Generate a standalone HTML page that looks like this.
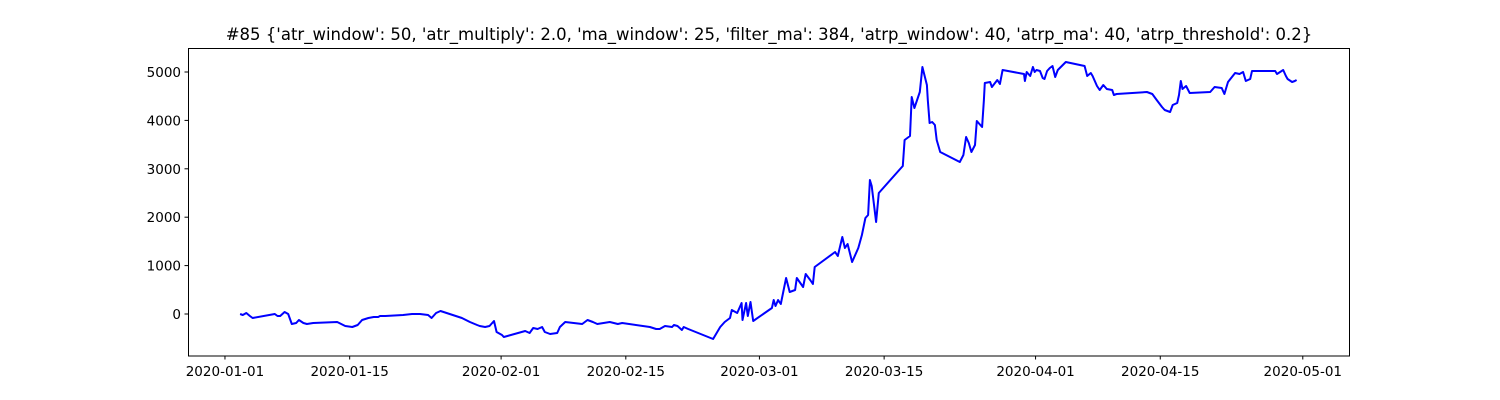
<!DOCTYPE html>
<html><head><meta charset="utf-8"><style>
html,body{margin:0;padding:0;background:#fff;}
svg{display:block;font-family:"DejaVu Sans","Liberation Sans",sans-serif;}
</style></head><body>
<svg id="chart" width="1500" height="400" viewBox="0 0 1500 400">
<rect width="1500" height="400" fill="#fff"/>
<text x="769" y="40" font-size="16.5" text-anchor="middle">#85 {'atr_window': 50, 'atr_multiply': 2.0, 'ma_window': 25, 'filter_ma': 384, 'atrp_window': 40, 'atrp_ma': 40, 'atrp_threshold': 0.2}</text>
<g id="grid"></g>
<g id="plot"></g>
<rect x="188.5" y="48.5" width="1161" height="307.5" fill="none" stroke="#000" stroke-width="1"/>
</svg>
<script>
// days since 2020-01-01
const days = [1.7,2.0,2.4,2.8,3.1,5.6,5.9,6.2,6.7,7.1,7.5,8.0,8.3,8.8,9.2,9.9,12.6,13.5,14.3,14.9,15.4,16.1,16.7,17.2,17.4,18.0,20.0,21.0,21.9,22.8,23.2,23.7,24.2,26.6,27.5,28.3,28.6,29.2,29.7,30.0,30.2,30.5,31.1,31.3,33.7,34.2,34.6,35.1,35.6,35.9,36.5,37.3,37.6,38.2,40.1,40.7,41.3,41.8,43.2,44.1,44.6,47.7,48.4,48.8,49.4,50.2,50.4,50.8,51.3,51.5,52.0,54.8,
55.6,56.1,56.7,56.9,57.5,58.0,58.1,58.5,58.7,59.0,59.3,61.4,61.6,61.8,62.1,62.4,63.0,63.4,64.0,64.2,64.9,65.2,65.7,66.0,66.2,68.5,68.8,69.3,69.6,69.9,70.4,71.1,71.5,71.9,72.2,72.4,72.6,73.1,73.4,76.1,76.3,76.9,77.1,77.4,78.0,78.3,78.8,78.9,79.1,79.4,79.7,79.9,80.3,82.5,82.9,83.2,83.5,83.8,84.2,84.4,85.0,85.2,85.3,85.9,86.1,86.7,87.0,87.3,
89.7,89.8,90.0,90.4,90.7,90.9,91.1,91.5,91.8,92.0,92.3,92.6,92.9,93.2,93.5,94.4,96.5,96.8,97.2,97.4,97.9,98.2,98.6,99.0,99.6,99.8,100.1,103.5,104.1,104.6,105.2,105.5,106.1,106.4,106.9,107.1,107.3,107.5,107.9,108.3,110.6,111.1,111.9,112.2,112.6,113.4,113.9,114.3,114.6,115.1,115.3,117.9,118.1,118.8,119.1,119.3,119.8,120.1,120.3];
const values = [0,-21,21,-41,-83,0,-41,-41,41,0,-207,-186,-124,-186,-207,-186,-165,-248,-269,-227,-124,-83,-62,-62,-41,-41,-21,0,0,-21,-83,21,62,-83,-165,-227,-248,-269,-248,-186,-145,-372,-434,-475,-351,-393,-289,-310,-269,-372,-413,-393,-269,-165,-207,-124,-165,-207,-165,-207,-186,-269,-310,-310,-248,-269,-227,-248,-331,-269,-310,-517,
-269,-165,-83,83,21,227,-124,227,-41,248,-145,124,289,165,289,207,744,455,496,744,558,826,702,620,971,1281,1198,1591,1364,1446,1074,1364,1632,1983,2045,2768,2644,1901,2500,3058,3595,3677,4483,4256,4587,5103,4731,4421,3946,3967,3905,3595,3347,3140,3285,3657,3533,3347,3492,3987,3863,4421,4772,4793,4690,4834,4752,5041,
4958,4814,5000,4917,5103,5000,5041,5020,4876,4855,5020,5082,5124,4896,5041,5206,5124,4917,4979,4917,4710,4628,4731,4649,4628,4525,4545,4587,4545,4421,4277,4215,4173,4318,4359,4525,4814,4649,4710,4566,4587,4690,4669,4545,4793,4979,4958,5000,4814,4855,5020,5020,4958,5041,4917,4855,4793,4814,4834];
const yTicks = [0,1000,2000,3000,4000,5000];
const xTickDays = [0,14,31,45,60,74,91,105,121];
const xTickLabels = ['2020-01-01','2020-01-15','2020-02-01','2020-02-15','2020-03-01','2020-03-15','2020-04-01','2020-04-15','2020-05-01'];

const X0=188, X1=1350, Y0=356, Y1=48;
const dMin=-4.15, dMax=126.3, vMin=-868, vMax=5496;
const sx = d => X0 + (d-dMin)/(dMax-dMin)*(X1-X0);
const sy = v => Y0 - (v-vMin)/(vMax-vMin)*(Y0-Y1);
const NS='http://www.w3.org/2000/svg';
const grid=document.getElementById('grid'), plot=document.getElementById('plot');

yTicks.forEach(v=>{
  const y=sy(v);
  const t=document.createElementNS(NS,'line');
  t.setAttribute('x1',X0-3.5);t.setAttribute('x2',X0);t.setAttribute('y1',y);t.setAttribute('y2',y);
  t.setAttribute('stroke','#000');
  
  
  grid.appendChild(t);
  const l=document.createElementNS(NS,'text');
  l.setAttribute('x',X0-7);l.setAttribute('y',y+5);l.setAttribute('text-anchor','end');l.setAttribute('font-size','13.5');
  l.textContent=v;
  
  
  grid.appendChild(l);
});
xTickDays.forEach((d,i)=>{
  const x=sx(d);
  const t=document.createElementNS(NS,'line');
  t.setAttribute('x1',x);t.setAttribute('x2',x);t.setAttribute('y1',Y0);t.setAttribute('y2',Y0+3.5);
  t.setAttribute('stroke','#000');
  
  
  grid.appendChild(t);
  const l=document.createElementNS(NS,'text');
  l.setAttribute('x',x);l.setAttribute('y',Y0+20);l.setAttribute('text-anchor','middle');l.setAttribute('font-size','13.5');
  l.textContent=xTickLabels[i];
  
  
  grid.appendChild(l);
});
const p=document.createElementNS(NS,'polyline');
p.setAttribute('points',days.map((d,i)=>sx(d).toFixed(1)+','+sy(values[i]).toFixed(1)).join(' '));
p.setAttribute('fill','none');p.setAttribute('stroke','#0000ff');p.setAttribute('stroke-width','2');p.setAttribute('stroke-linejoin','round');


plot.appendChild(p);
</script>
</body></html>
